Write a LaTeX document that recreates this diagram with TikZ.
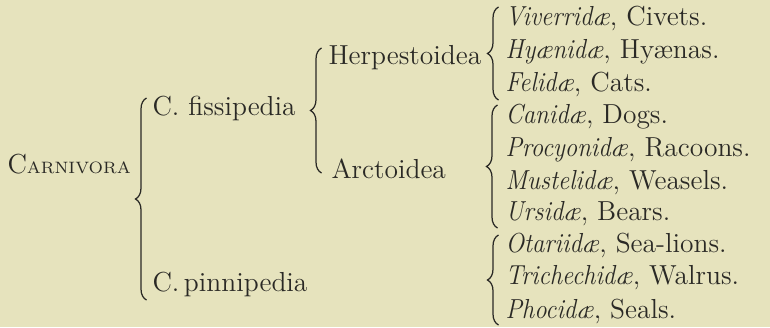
\documentclass[tikz,border=0pt]{standalone}
\usepackage{xcolor}
\usepackage{graphicx}
\usepackage{tikz}
\usetikzlibrary{decorations.pathreplacing}
\definecolor{PlatePaper}{HTML}{E6E3BD}
\definecolor{PlateInk}{HTML}{2A2925}
\newcommand{\famname}[1]{\scalebox{0.9}[1]{\textit{#1}}}
\newcommand{\ordname}[1]{C{\fontsize{6.6}{9}\selectfont #1}}

\begin{document}
\begin{tikzpicture}[x=0.4pt,y=-0.4pt,font=\fontsize{11}{13}\selectfont,
  taxon/.style={anchor=base west,inner sep=0pt,text=PlateInk},
  grp/.style={draw=PlateInk,line width=0.5pt,decorate,
    decoration={brace,amplitude=4.4pt}}]
  \fill[PlatePaper] (0,0) rectangle (770,327);
  \useasboundingbox (0,0) rectangle (770,327);
  % order, suborders, sections
  \node[taxon] (carn) at (7,173) {\ordname{ARNIVORA}};
  \node[taxon] (fiss) at (152,115) {C. fissipedia};
  \node[taxon] (pinn) at (152,291) {C.\,pinnipedia};
  \node[taxon] (herp) at (328,64) {Herpestoidea};
  \node[taxon] (arct) at (331,178) {Arctoidea};
  % families
  \node[taxon] (vive) at (505,25) {\famname{Viverrid\ae}, Civets.};
  \node[taxon] (hyae) at (505,58) {\famname{Hy\ae nid\ae}, Hy\ae nas.};
  \node[taxon] (feli) at (505,91) {\famname{Felid\ae}, Cats.};
  \node[taxon] (cani) at (505,123.5) {\famname{Canid\ae}, Dogs.};
  \node[taxon] (proc) at (505,156) {\famname{Procyonid\ae}, Racoons.};
  \node[taxon] (must) at (505,189) {\famname{Mustelid\ae}, Weasels.};
  \node[taxon] (ursi) at (505,220) {\famname{Ursid\ae}, Bears.};
  \node[taxon] (otar) at (505,252) {\famname{Otariid\ae}, Sea-lions.};
  \node[taxon] (tric) at (505,284.5) {\famname{Trichechid\ae}, Walrus.};
  \node[taxon] (phoc) at (505,318) {\famname{Phocid\ae}, Seals.};
  % brace ends
  \coordinate (c1) at (146.5,98); \coordinate (c2) at (146.5,300);
  \coordinate (s1) at (321.5,48); \coordinate (s2) at (321.5,173);
  \coordinate (h1) at (498.5,7); \coordinate (h2) at (498.5,100);
  \coordinate (a1) at (497.5,105); \coordinate (a2) at (497.5,228);
  \coordinate (p1) at (498.5,235); \coordinate (p2) at (498.5,325);
  \draw[grp] (c2) -- (c1);
  \draw[grp] (s2) -- (s1);
  \draw[grp] (h2) -- (h1);
  \draw[grp] (a2) -- (a1);
  \draw[grp] (p2) -- (p1);
\end{tikzpicture}
\end{document}
